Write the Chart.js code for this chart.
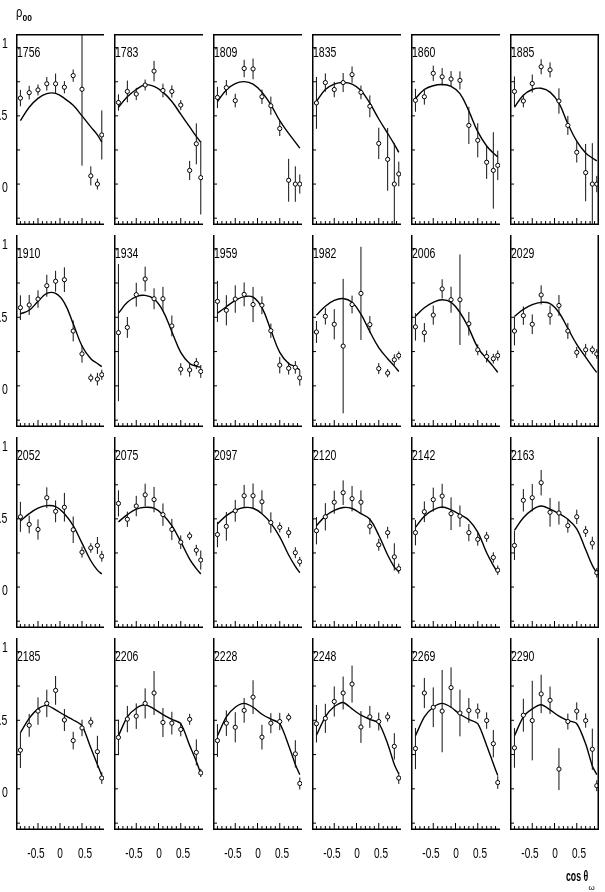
<!DOCTYPE html>
<html><head><meta charset="utf-8">
<script src="https://cdn.jsdelivr.net/npm/chart.js@4.4.1/dist/chart.umd.min.js"></script>
<style>
html,body{margin:0;padding:0;background:#fff;width:605px;height:892px;overflow:hidden;}
#wrap{position:relative;width:605px;height:892px;overflow:hidden;background:#fff;}
canvas{position:absolute;display:block;}
.t{position:absolute;font-family:'Liberation Sans',Arial,sans-serif;font-size:14px;line-height:14px;color:#000;white-space:nowrap;}
</style></head><body><div id="wrap"></div>
<script>
// ---- data ----
const cosTheta = [-0.9, -0.7, -0.5, -0.3, -0.1, 0.1, 0.3, 0.5, 0.7, 0.85, 0.95];
const energyLabels = ['1756','1783','1809','1835','1860','1885','1910','1934','1959','1982','2006','2029',
                      '2052','2075','2097','2120','2142','2163','2185','2206','2228','2248','2269','2290'];

const rho1756 = [0.63,0.67,0.69,0.735,0.735,0.71,0.795,0.695,0.06,0.0,0.36];
const err1756 = [0.06,0.05,0.04,0.05,0.075,0.045,0.045,0.56,0.07,0.04,0.18];
const fit1756 = [0.465,0.563,0.628,0.663,0.665,0.628,0.577,0.5,0.419,0.36,0.307];

const rho1783 = [0.598,0.679,0.66,0.726,0.828,0.686,0.679,0.579,0.1,0.295,0.047];
const err1783 = [0.06,0.08,0.045,0.04,0.075,0.05,0.045,0.037,0.07,0.15,0.27];
const fit1783 = [0.563,0.64,0.693,0.728,0.716,0.674,0.605,0.512,0.419,0.349,0.307];

const rho1809 = [0.635,0.707,0.612,0.847,0.844,0.64,0.574,0.407,0.028,0.0,0.0];
const err1809 = [0.078,0.056,0.05,0.064,0.076,0.053,0.067,0.055,0.157,0.13,0.07];
const fit1809 = [0.605,0.69,0.737,0.751,0.733,0.674,0.581,0.465,0.372,0.307,0.263];

const rho1835 = [0.595,0.744,0.693,0.744,0.802,0.672,0.57,0.298,0.181,0.0,0.074];
const err1835 = [0.19,0.067,0.056,0.07,0.06,0.05,0.08,0.115,0.23,0.3,0.09];
const fit1835 = [0.605,0.693,0.733,0.744,0.733,0.686,0.593,0.477,0.372,0.291,0.233];

const rho1860 = [0.614,0.64,0.812,0.786,0.77,0.76,0.43,0.321,0.16,0.1,0.137];
const err1860 = [0.084,0.058,0.056,0.064,0.058,0.066,0.136,0.125,0.122,0.28,0.108];
const fit1860 = [0.628,0.693,0.721,0.73,0.716,0.663,0.535,0.384,0.279,0.228,0.198];

const rho1885 = [0.679,0.609,0.737,0.86,0.837,0.609,0.43,0.233,0.084,0.0,0.0];
const err1885 = [0.11,0.047,0.066,0.055,0.055,0.093,0.07,0.075,0.21,0.3,0.06];
const fit1885 = [0.563,0.651,0.693,0.702,0.674,0.593,0.442,0.314,0.228,0.191,0.17];

const rho1910 = [0.57,0.59,0.633,0.73,0.763,0.774,0.4,0.233,0.058,0.049,0.081];
const err1910 = [0.09,0.073,0.064,0.08,0.076,0.09,0.076,0.064,0.03,0.046,0.037];
const fit1910 = [0.525,0.551,0.616,0.674,0.674,0.605,0.453,0.291,0.198,0.163,0.14];

const rho1934 = [0.388,0.426,0.665,0.779,0.635,0.635,0.437,0.121,0.116,0.163,0.105];
const err1934 = [0.5,0.076,0.087,0.09,0.076,0.087,0.076,0.044,0.049,0.04,0.047];
const fit1934 = [0.53,0.609,0.651,0.66,0.633,0.547,0.395,0.244,0.163,0.144,0.135];

const rho1959 = [0.616,0.551,0.633,0.667,0.593,0.588,0.402,0.151,0.128,0.135,0.058];
const err1959 = [0.15,0.11,0.1,0.087,0.128,0.065,0.052,0.06,0.046,0.046,0.056];
const fit1959 = [0.53,0.577,0.623,0.651,0.647,0.57,0.407,0.244,0.163,0.14,0.116];

const rho1982 = [0.393,0.507,0.449,0.29,0.593,0.674,0.447,0.126,0.093,0.19,0.221];
const err1982 = [0.08,0.06,0.11,0.49,0.065,0.34,0.062,0.04,0.03,0.04,0.03];
const fit1982 = [0.516,0.581,0.623,0.637,0.609,0.523,0.395,0.279,0.198,0.144,0.105];

const rho2006 = [0.43,0.388,0.516,0.707,0.628,0.628,0.453,0.263,0.214,0.198,0.221];
const err2006 = [0.1,0.07,0.07,0.07,0.095,0.33,0.086,0.04,0.044,0.035,0.037];
const fit2006 = [0.507,0.57,0.609,0.628,0.609,0.535,0.419,0.279,0.198,0.14,0.098];

const rho2029 = [0.4,0.512,0.449,0.663,0.516,0.586,0.4,0.244,0.263,0.263,0.233];
const err2029 = [0.105,0.067,0.072,0.07,0.07,0.076,0.058,0.04,0.043,0.03,0.035];
const fit2029 = [0.507,0.558,0.593,0.609,0.6,0.535,0.419,0.302,0.209,0.14,0.098];

const rho2052 = [0.515,0.459,0.422,0.655,0.555,0.585,0.42,0.256,0.287,0.305,0.226];
const err2052 = [0.11,0.065,0.074,0.076,0.08,0.105,0.097,0.04,0.035,0.062,0.04];
const fit2052 = [0.485,0.538,0.578,0.597,0.59,0.538,0.45,0.322,0.193,0.124,0.096];

const rho2075 = [0.613,0.497,0.594,0.676,0.641,0.531,0.422,0.329,0.375,0.27,0.198];
const err2075 = [0.096,0.056,0.075,0.082,0.093,0.082,0.078,0.05,0.03,0.04,0.07];
const fit2075 = [0.478,0.531,0.571,0.585,0.578,0.531,0.45,0.333,0.205,0.135,0.096];

const rho2097 = [0.385,0.445,0.559,0.669,0.669,0.625,0.473,0.438,0.399,0.252,0.186];
const err2097 = [0.093,0.105,0.08,0.08,0.09,0.084,0.075,0.037,0.04,0.04,0.035];
const fit2097 = [0.462,0.524,0.562,0.583,0.578,0.538,0.469,0.368,0.235,0.152,0.105];

const rho2120 = [0.413,0.515,0.622,0.692,0.648,0.622,0.445,0.31,0.399,0.221,0.135];
const err2120 = [0.1,0.1,0.084,0.09,0.093,0.087,0.058,0.044,0.043,0.1,0.037];
const fit2120 = [0.45,0.52,0.562,0.583,0.576,0.538,0.497,0.38,0.235,0.147,0.112];

const rho2142 = [0.399,0.552,0.641,0.667,0.538,0.52,0.399,0.35,0.368,0.217,0.124];
const err2142 = [0.093,0.076,0.088,0.09,0.12,0.078,0.063,0.047,0.037,0.038,0.035];
const fit2142 = [0.438,0.52,0.566,0.587,0.566,0.531,0.49,0.403,0.252,0.159,0.105];

const rho2163 = [0.305,0.636,0.655,0.765,0.548,0.543,0.45,0.515,0.408,0.322,0.105];
const err2163 = [0.107,0.082,0.1,0.093,0.105,0.085,0.051,0.052,0.04,0.047,0.035];
const fit2163 = [0.415,0.508,0.566,0.594,0.571,0.538,0.497,0.427,0.275,0.159,0.105];

const rho2185 = [0.282,0.463,0.567,0.623,0.718,0.502,0.352,0.444,0.486,0.271,0.079];
const err2185 = [0.13,0.083,0.1,0.1,0.105,0.08,0.064,0.06,0.037,0.116,0.043];
const fit2185 = [0.41,0.514,0.583,0.609,0.576,0.537,0.502,0.461,0.299,0.178,0.097];

const rho2206 = [0.375,0.509,0.53,0.623,0.699,0.484,0.479,0.433,0.507,0.266,0.116];
const err2206 = [0.13,0.096,0.093,0.11,0.16,0.106,0.083,0.05,0.04,0.095,0.03];
const fit2206 = [0.387,0.525,0.588,0.613,0.583,0.542,0.507,0.475,0.317,0.201,0.109];

const rho2228 = [0.352,0.479,0.449,0.572,0.669,0.377,0.479,0.491,0.521,0.255,0.039];
const err2228 = [0.12,0.093,0.11,0.09,0.123,0.09,0.073,0.063,0.03,0.1,0.044];
const fit2228 = [0.387,0.525,0.595,0.623,0.595,0.544,0.509,0.475,0.317,0.178,0.104];

const rho2248 = [0.475,0.514,0.637,0.699,0.764,0.451,0.525,0.491,0.525,0.31,0.079];
const err2248 = [0.137,0.106,0.11,0.12,0.135,0.116,0.08,0.065,0.035,0.096,0.043];
const fit2248 = [0.391,0.525,0.6,0.63,0.583,0.537,0.507,0.479,0.329,0.178,0.109];

const rho2269 = [0.294,0.699,0.595,0.567,0.738,0.553,0.572,0.567,0.498,0.329,0.046];
const err2269 = [0.15,0.11,0.145,0.3,0.148,0.17,0.09,0.055,0.06,0.1,0.046];
const fit2269 = [0.387,0.525,0.595,0.623,0.595,0.544,0.507,0.475,0.317,0.183,0.097];

const rho2290 = [0.299,0.537,0.498,0.692,0.646,0.144,0.491,0.567,0.498,0.289,0.023];
const err2290 = [0.145,0.12,0.29,0.14,0.1,0.153,0.058,0.064,0.052,0.15,0.04];
const fit2290 = [0.387,0.525,0.583,0.613,0.576,0.53,0.498,0.475,0.329,0.167,0.104];

const xMinorTicks = [-0.9,-0.8,-0.7,-0.6,-0.4,-0.3,-0.2,-0.1,0.1,0.2,0.3,0.4,0.6,0.7,0.8,0.9];
const xMajorTicks = [-0.5, 0, 0.5];
const xTickLabels = ['-0.5','0','0.5'];
const yTickMarks = [-0.25, 0, 0.25, 0.5, 0.75, 1];
const yLabelValues = [1, 0.5, 0];
const yTickLabels = ['1','0.5','0'];
const xRange = [-1, 1];
const yRange = [-0.3, 1.1];

// ---- layout ----
const panelData = [
  [rho1756,err1756,fit1756],[rho1783,err1783,fit1783],[rho1809,err1809,fit1809],
  [rho1835,err1835,fit1835],[rho1860,err1860,fit1860],[rho1885,err1885,fit1885],
  [rho1910,err1910,fit1910],[rho1934,err1934,fit1934],[rho1959,err1959,fit1959],
  [rho1982,err1982,fit1982],[rho2006,err2006,fit2006],[rho2029,err2029,fit2029],
  [rho2052,err2052,fit2052],[rho2075,err2075,fit2075],[rho2097,err2097,fit2097],
  [rho2120,err2120,fit2120],[rho2142,err2142,fit2142],[rho2163,err2163,fit2163],
  [rho2185,err2185,fit2185],[rho2206,err2206,fit2206],[rho2228,err2228,fit2228],
  [rho2248,err2248,fit2248],[rho2269,err2269,fit2269],[rho2290,err2290,fit2290]
];
const colEdges = [11,109,208,307,406,505,604];
const rowEdges = [29,230,432,633,835];
const wrap = document.getElementById('wrap');

const framePlugin = {
  id: 'frame',
  afterDraw(chart, args, o) {
    const ctx = chart.ctx;
    const {left, right, top, bottom} = chart.chartArea;
    const xs = chart.scales.x, ys = chart.scales.y;
    ctx.save();
    ctx.strokeStyle = '#000';
    ctx.lineWidth = 1;
    ctx.beginPath();
    xMinorTicks.forEach(v => { const p = xs.getPixelForValue(v); ctx.moveTo(p, bottom); ctx.lineTo(p, bottom - 4); });
    ctx.stroke();
    ctx.beginPath();
    xMajorTicks.forEach(v => { const p = xs.getPixelForValue(v); ctx.moveTo(p, bottom); ctx.lineTo(p, bottom - 7); });
    ctx.stroke();
    ctx.beginPath();
    yTickMarks.forEach(v => { const p = ys.getPixelForValue(v); ctx.moveTo(left, p); ctx.lineTo(left + 4, p); });
    ctx.stroke();
    ctx.lineWidth = 1.5;
    ctx.beginPath();
    ctx.moveTo(left + 0.75, top); ctx.lineTo(left + 0.75, bottom);
    ctx.moveTo(left, bottom - 0.75); ctx.lineTo(right, bottom - 0.75);
    if (o.drawTop) { ctx.moveTo(left, top + 0.75); ctx.lineTo(right, top + 0.75); }
    if (o.drawRight) { ctx.moveTo(right - 0.75, top); ctx.lineTo(right - 0.75, bottom); }
    ctx.stroke();
    ctx.restore();
  }
};

function addText(txt, css) {
  const d = document.createElement('div');
  d.className = 't';
  d.textContent = txt;
  Object.assign(d.style, css);
  wrap.appendChild(d);
  return d;
}

panelData.forEach((pd, k) => {
  const r = Math.floor(k / 6), c = k % 6;
  const L = colEdges[c], T = rowEdges[r];
  const W = colEdges[c + 1] - L, H = rowEdges[r + 1] - T;
  const cv = document.createElement('canvas');
  cv.width = W; cv.height = H;
  cv.style.left = L + 'px'; cv.style.top = T + 'px';
  cv.style.width = W + 'px'; cv.style.height = H + 'px';
  wrap.appendChild(cv);
  const [rho, err, fit] = pd;
  const pts = cosTheta.map((x, i) => ({x, y: rho[i]}));
  const bars = [];
  cosTheta.forEach((x, i) => { bars.push({x, y: rho[i] - err[i]}, {x, y: rho[i] + err[i]}, {x, y: null}); });
  const curve = cosTheta.map((x, i) => ({x, y: fit[i]}));
  new Chart(cv, {
    type: 'scatter',
    data: { datasets: [
      { type: 'scatter', data: pts, pointRadius: 2.1, pointBorderWidth: 1, pointBorderColor: '#000', pointBackgroundColor: '#fff', order: 0 },
      { type: 'line', data: bars, borderColor: '#111', borderWidth: 1, pointRadius: 0, spanGaps: false, fill: false, order: 1 },
      { type: 'line', data: curve, borderColor: '#000', borderWidth: 1.4, pointRadius: 0, tension: r === 3 ? 0.25 : 0.4, fill: false, order: 2 }
    ]},
    options: {
      responsive: false, animation: false, devicePixelRatio: 1,
      layout: { padding: 0 },
      events: [],
      plugins: { legend: { display: false }, tooltip: { enabled: false }, frame: { drawTop: r === 0, drawRight: c === 5 } },
      scales: {
        x: { type: 'linear', min: xRange[0], max: xRange[1], display: false },
        y: { type: 'linear', min: yRange[0], max: yRange[1], display: false }
      }
    },
    plugins: [framePlugin]
  });
  // panel energy label
  addText(energyLabels[k], { left: (L + 5.5) + 'px', top: (T + 16) + 'px', transform: 'scaleX(0.75)', transformOrigin: '0 0' });
  // y tick labels on the left
  if (c === 0) {
    yLabelValues.forEach((v, i) => {
      const py = T + (yRange[1] - v) / (yRange[1] - yRange[0]) * H;
      addText(yTickLabels[i], { right: (605 - 7.5) + 'px', top: (py - 7) + 'px', transform: 'scaleX(0.75)', transformOrigin: '100% 0' });
    });
  }
  // x tick labels below the last row
  if (r === 3) {
    xMajorTicks.forEach((v, i) => {
      const px = L + (v - xRange[0]) / (xRange[1] - xRange[0]) * W;
      addText(xTickLabels[i], { left: px + 'px', top: '846px', transform: 'translateX(-50%) scaleX(0.72)', transformOrigin: '50% 0' });
    });
  }
});

// axis titles
addText('ρ', { left: '16px', top: '5px', fontSize: '14px', lineHeight: '14px', transform: 'scaleX(0.8)', transformOrigin: '0 0' });
addText('00', { left: '22.5px', top: '13.5px', fontSize: '8.5px', lineHeight: '9px', fontWeight: 'bold' });
addText('cos θ', { right: (605 - 588) + 'px', top: '868px', fontSize: '15px', lineHeight: '15px', fontWeight: 'bold', transform: 'scaleX(0.58)', transformOrigin: '100% 0' });
addText('ω', { left: '588.5px', top: '884px', fontSize: '8px', lineHeight: '8px' });
</script></body></html>
